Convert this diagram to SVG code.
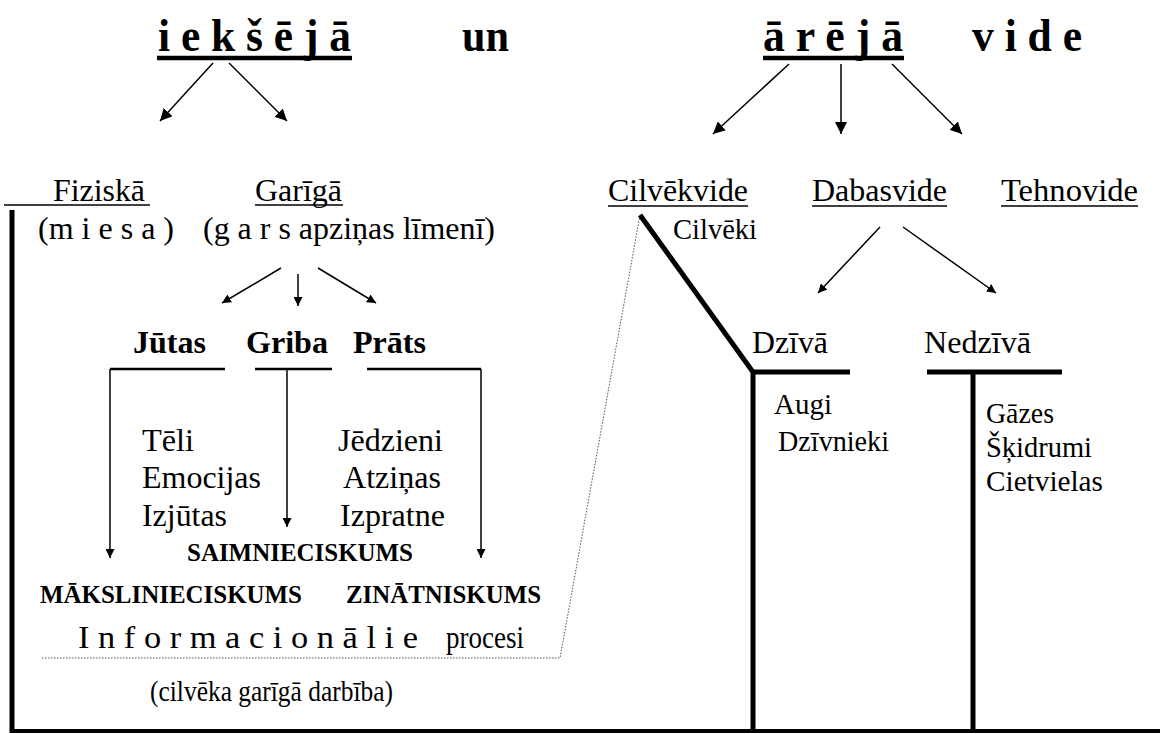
<svg xmlns="http://www.w3.org/2000/svg" width="1160" height="734" viewBox="0 0 1160 734">
<style>
text{font-family:"Liberation Serif","Times New Roman",Times,"DejaVu Serif",serif}
.t{font-size:46px;font-weight:bold}
.r{font-size:32px}
.q{font-size:29px}
.b{font-size:32px;font-weight:bold}
.s{font-size:24.5px;font-weight:bold}
.ul{stroke:#000;stroke-width:1.4}
.thin{stroke:#000;stroke-width:1.5;fill:none}
.thick{stroke:#000;stroke-width:5;fill:none}
.med{stroke:#000;stroke-width:2.6;fill:none}
.dot{stroke:#555;stroke-width:1;stroke-dasharray:1.5 1.5;fill:none}
</style>
<defs>
<marker id="ah" viewBox="0 0 10 10" refX="10" refY="5" markerWidth="9" markerHeight="9" markerUnits="userSpaceOnUse" orient="auto"><path d="M0,0 L10,5 L0,10 z" fill="#000"/></marker>
<marker id="ah2" viewBox="0 0 10 10" refX="10" refY="5" markerWidth="12" markerHeight="12" markerUnits="userSpaceOnUse" orient="auto"><path d="M0,0 L10,5 L0,10 z" fill="#000"/></marker>
</defs>
<g id="title">
<text class="t" x="158" y="51" textLength="193" lengthAdjust="spacingAndGlyphs">i e k š ē j ā</text>
<line x1="157" y1="58" x2="352" y2="58" stroke="#000" stroke-width="4.5"/>
<text class="t" x="462" y="51" textLength="47" lengthAdjust="spacingAndGlyphs">un</text>
<text class="t" x="763" y="51" textLength="140" lengthAdjust="spacingAndGlyphs">ā r ē j ā</text>
<line x1="763" y1="58" x2="904" y2="58" stroke="#000" stroke-width="4.5"/>
<text class="t" x="972" y="51" textLength="110" lengthAdjust="spacingAndGlyphs">v i d e</text>
</g>
<g id="fiziska">
<text class="r" x="53" y="201" textLength="92" lengthAdjust="spacingAndGlyphs">Fiziskā</text>
<line class="ul" x1="4" y1="205" x2="150" y2="205"/>
<text class="r" x="38" y="239" textLength="136" lengthAdjust="spacingAndGlyphs">(m i e s a )</text>
</g>
<g id="gariga">
<text class="r" x="255" y="201" textLength="87" lengthAdjust="spacingAndGlyphs">Garīgā</text>
<line class="ul" x1="255" y1="205" x2="343" y2="205"/>
<text class="r" x="203" y="239" textLength="292" lengthAdjust="spacingAndGlyphs">(g a r s apziņas līmenī)</text>
</g>
<g id="cilvekvide">
<text class="r" x="608" y="201" textLength="140" lengthAdjust="spacingAndGlyphs">Cilvēkvide</text>
<line class="ul" x1="608" y1="206" x2="748" y2="206"/>
<text class="q" x="673" y="239" textLength="84" lengthAdjust="spacingAndGlyphs">Cilvēki</text>
</g>
<g id="dabasvide">
<text class="r" x="812" y="201" textLength="135" lengthAdjust="spacingAndGlyphs">Dabasvide</text>
<line class="ul" x1="812" y1="206" x2="947" y2="206"/>
</g>
<g id="tehnovide">
<text class="r" x="1001" y="201" textLength="137" lengthAdjust="spacingAndGlyphs">Tehnovide</text>
<line class="ul" x1="1001" y1="206" x2="1138" y2="206"/>
</g>
<g id="jutas">
<text class="b" x="133" y="353" textLength="73" lengthAdjust="spacingAndGlyphs">Jūtas</text>
<text class="r" x="142" y="451" textLength="52" lengthAdjust="spacingAndGlyphs">Tēli</text>
<text class="r" x="142" y="488" textLength="119" lengthAdjust="spacingAndGlyphs">Emocijas</text>
<text class="r" x="142" y="526" textLength="85" lengthAdjust="spacingAndGlyphs">Izjūtas</text>
</g>
<g id="griba"><text class="b" x="246" y="353" textLength="82" lengthAdjust="spacingAndGlyphs">Griba</text></g>
<g id="prats">
<text class="b" x="353" y="353" textLength="73" lengthAdjust="spacingAndGlyphs">Prāts</text>
<text class="r" x="338" y="451" textLength="105" lengthAdjust="spacingAndGlyphs">Jēdzieni</text>
<text class="r" x="343" y="488" textLength="98" lengthAdjust="spacingAndGlyphs">Atziņas</text>
<text class="r" x="340" y="526" textLength="105" lengthAdjust="spacingAndGlyphs">Izpratne</text>
</g>
<g id="saimnieciskums"><text class="s" x="187" y="561" textLength="226" lengthAdjust="spacingAndGlyphs">SAIMNIECISKUMS</text></g>
<g id="maksl"><text class="s" x="40" y="603" textLength="262" lengthAdjust="spacingAndGlyphs">MĀKSLINIECISKUMS</text></g>
<g id="zinatn"><text class="s" x="346" y="603" textLength="195" lengthAdjust="spacingAndGlyphs">ZINĀTNISKUMS</text></g>
<g id="info">
<text class="r" x="78" y="648" textLength="340" lengthAdjust="spacingAndGlyphs">I n f o r m a c i o n ā l i e</text>
<text class="r" x="446" y="648" textLength="78" lengthAdjust="spacingAndGlyphs">procesi</text>
<text class="q" x="150" y="701" textLength="243" lengthAdjust="spacingAndGlyphs">(cilvēka garīgā darbība)</text>
</g>
<g id="dziva">
<text class="r" x="752" y="353" textLength="76" lengthAdjust="spacingAndGlyphs">Dzīvā</text>
<text class="q" x="774" y="414" textLength="58" lengthAdjust="spacingAndGlyphs">Augi</text>
<text class="q" x="778" y="451" textLength="111" lengthAdjust="spacingAndGlyphs">Dzīvnieki</text>
</g>
<g id="nedziva">
<text class="r" x="924" y="353" textLength="107" lengthAdjust="spacingAndGlyphs">Nedzīvā</text>
<text class="q" x="986" y="423" textLength="68" lengthAdjust="spacingAndGlyphs">Gāzes</text>
<text class="q" x="986" y="457" textLength="106" lengthAdjust="spacingAndGlyphs">Šķidrumi</text>
<text class="q" x="986" y="491" textLength="117" lengthAdjust="spacingAndGlyphs">Cietvielas</text>
</g>
<g id="connectors">
<line class="thin" x1="213" y1="63" x2="160" y2="121" marker-end="url(#ah2)"/>
<line class="thin" x1="229" y1="63" x2="287" y2="121" marker-end="url(#ah2)"/>
<line class="thin" x1="789" y1="64" x2="713" y2="134" marker-end="url(#ah2)"/>
<line class="thin" x1="841" y1="64" x2="841" y2="134" marker-end="url(#ah2)"/>
<line class="thin" x1="892" y1="64" x2="962" y2="134" marker-end="url(#ah2)"/>
<line class="thin" x1="281" y1="268" x2="222" y2="303" marker-end="url(#ah)"/>
<line class="thin" x1="298" y1="274" x2="298" y2="306" marker-end="url(#ah)"/>
<line class="thin" x1="318" y1="268" x2="376" y2="303" marker-end="url(#ah)"/>
<line class="thin" x1="880" y1="227" x2="818" y2="293" marker-end="url(#ah)"/>
<line class="thin" x1="903" y1="227" x2="996" y2="293" marker-end="url(#ah)"/>
<line class="med" x1="110" y1="369" x2="225" y2="369"/>
<line class="med" x1="255" y1="369" x2="332" y2="369"/>
<line class="med" x1="367" y1="369" x2="481" y2="369"/>
<line class="thin" x1="110" y1="369" x2="110" y2="558" marker-end="url(#ah)"/>
<line class="thin" x1="287" y1="369" x2="287" y2="527" marker-end="url(#ah)"/>
<line class="thin" x1="481" y1="369" x2="481" y2="558" marker-end="url(#ah)"/>
<polyline class="dot" points="42,658 560,658 640,215"/>
<line class="thick" x1="12" y1="210" x2="12" y2="733"/>
<line x1="10" y1="731" x2="1160" y2="731" stroke="#000" stroke-width="4"/>
<polyline class="thick" points="640,215 753,372 753,731"/>
<line class="thick" x1="753" y1="372" x2="850" y2="372"/>
<line class="thick" x1="927" y1="372" x2="1062" y2="372"/>
<line class="thick" x1="973" y1="372" x2="973" y2="731"/>
</g>
</svg>
